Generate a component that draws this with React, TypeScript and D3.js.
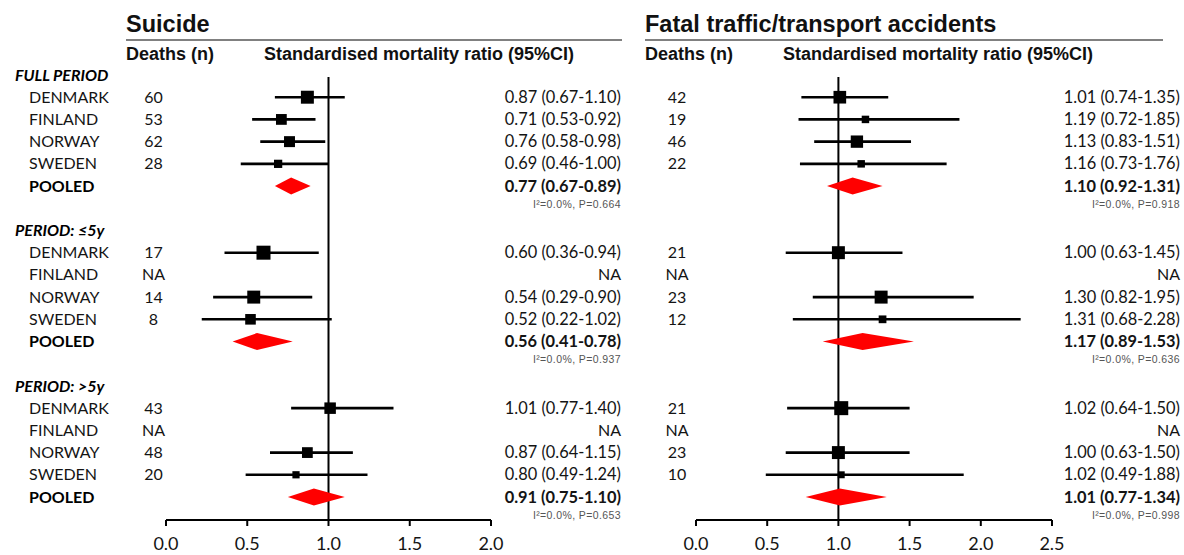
import React from 'react';
import * as d3 from 'd3';

// row labels
const countries = ['DENMARK', 'FINLAND', 'NORWAY', 'SWEDEN'];
const periods = ['FULL PERIOD', 'PERIOD: ≤5y', 'PERIOD: >5y'];

// Suicide
const suicideDeaths = [[60, 53, 62, 28], [17, null, 14, 8], [43, null, 48, 20]];
const suicideSmr = [[0.87, 0.71, 0.76, 0.69], [0.60, null, 0.54, 0.52], [1.01, null, 0.87, 0.80]];
const suicideLo = [[0.67, 0.53, 0.58, 0.46], [0.36, null, 0.29, 0.22], [0.77, null, 0.64, 0.49]];
const suicideHi = [[1.10, 0.92, 0.98, 1.00], [0.94, null, 0.90, 1.02], [1.40, null, 1.15, 1.24]];
const suicideBox = [[42, 29, 30, 17], [49, null, 42, 28], [33, null, 29, 13]];
const suicidePooled = [0.77, 0.56, 0.91];
const suicidePooledLo = [0.67, 0.41, 0.75];
const suicidePooledHi = [0.89, 0.78, 1.10];
const suicideI2 = [0.0, 0.0, 0.0];
const suicideP = [0.664, 0.937, 0.653];
const suicideTicks = [0, 0.5, 1, 1.5, 2];

// Fatal traffic/transport accidents
const trafficDeaths = [[42, 19, 46, 22], [21, null, 23, 12], [21, null, 23, 10]];
const trafficSmr = [[1.01, 1.19, 1.13, 1.16], [1.00, null, 1.30, 1.31], [1.02, null, 1.00, 1.02]];
const trafficLo = [[0.74, 0.72, 0.83, 0.73], [0.63, null, 0.82, 0.68], [0.64, null, 0.63, 0.49]];
const trafficHi = [[1.35, 1.85, 1.51, 1.76], [1.45, null, 1.95, 2.28], [1.50, null, 1.50, 1.88]];
const trafficBox = [[40, 14, 38, 14], [42, null, 42, 15], [49, null, 42, 12]];
const trafficPooled = [1.10, 1.17, 1.01];
const trafficPooledLo = [0.92, 0.89, 0.77];
const trafficPooledHi = [1.31, 1.53, 1.34];
const trafficI2 = [0.0, 0.0, 0.0];
const trafficP = [0.918, 0.636, 0.998];
const trafficTicks = [0, 0.5, 1, 1.5, 2, 2.5];

const ARIAL = '"Liberation Sans", Arial, sans-serif';
const CAL = 'Lato, "Noto Sans", sans-serif';
const TXT = '#141414';

// row index -> y (section headers at 0, 7, 14)
const rowY = d3.scaleLinear().domain([0, 19]).range([75, 497]);
const sectionStart = [0, 7, 14];
const AXIS_Y = 520;

const boxSize = d3.scaleSqrt().domain([0, 100]).range([0, 20]);
const fmt = (v: number) => v.toFixed(2);

type PanelProps = {
  title: string;
  left: number;
  lineEnd: number;
  smrHeaderX: number;
  deathsX: number;
  range: [number, number];
  ticks: number[];
  textRight: number;
  deaths: (number | null)[][];
  smr: (number | null)[][];
  lo: (number | null)[][];
  hi: (number | null)[][];
  box: (number | null)[][];
  pooled: number[];
  pooledLo: number[];
  pooledHi: number[];
  i2: number[];
  p: number[];
};

const Panel = (props: PanelProps) => {
  const { title, left, lineEnd, smrHeaderX, deathsX, range, ticks, textRight } = props;
  const x = d3.scaleLinear().domain([ticks[0], ticks[ticks.length - 1]]).range(range);

  return (
    <g>
      <text x={left} y={32} fontFamily={ARIAL} fontWeight="bold" fontSize={23.5} fill="#111">{title}</text>
      <line x1={left} x2={lineEnd} y1={40} y2={40} stroke="#808080" strokeWidth={2} />
      <text x={left} y={60} fontFamily={ARIAL} fontWeight="bold" fontSize={18} fill="#111">Deaths (n)</text>
      <text x={smrHeaderX} y={60} fontFamily={ARIAL} fontWeight="bold" fontSize={18} fill="#111">
        Standardised mortality ratio (95%CI)
      </text>

      {/* reference line at 1 */}
      <line x1={x(1)} x2={x(1)} y1={77} y2={AXIS_Y} stroke="#000" strokeWidth={2} />

      {sectionStart.map((s, si) => (
        <g key={si}>
          {countries.map((c, ci) => {
            const y = rowY(s + 1 + ci);
            const d = props.deaths[si][ci];
            const m = props.smr[si][ci];
            const l = props.lo[si][ci];
            const h = props.hi[si][ci];
            const b = props.box[si][ci];
            return (
              <g key={c}>
                <text x={deathsX} y={y + 5.5} textAnchor="middle" fontFamily={CAL} fontSize={16} fill={TXT}>
                  {d == null ? 'NA' : d}
                </text>
                {m != null && l != null && h != null && b != null ? (
                  <>
                    <line x1={x(l)} x2={x(h)} y1={y} y2={y} stroke="#000" strokeWidth={2.6} />
                    <rect x={x(m) - boxSize(b) / 2} y={y - boxSize(b) / 2} width={boxSize(b)} height={boxSize(b)} fill="#000" />
                    <text x={textRight} y={y + 5.5} textAnchor="end" fontFamily={CAL} fontSize={16.4} fill={TXT}>
                      {`${fmt(m)} (${fmt(l)}-${fmt(h)})`}
                    </text>
                  </>
                ) : (
                  <text x={textRight} y={y + 5.5} textAnchor="end" fontFamily={CAL} fontSize={16} fill={TXT}>NA</text>
                )}
              </g>
            );
          })}
          {(() => {
            const y = rowY(s + 5);
            const lo = props.pooledLo[si];
            const hi = props.pooledHi[si];
            const pt = props.pooled[si];
            const path = d3.path();
            path.moveTo(x(lo), y);
            path.lineTo(x(pt), y - 8.5);
            path.lineTo(x(hi), y);
            path.lineTo(x(pt), y + 8.5);
            path.closePath();
            return (
              <>
                <path d={path.toString()} fill="#ff0000" />
                <text x={textRight} y={y + 5.5} textAnchor="end" fontFamily={CAL} fontWeight="bold" fontSize={16.4} fill={TXT}>
                  {`${fmt(pt)} (${fmt(lo)}-${fmt(hi)})`}
                </text>
                <text x={textRight} y={y + 21.5} textAnchor="end" fontFamily={ARIAL} fontSize={10.5} letterSpacing={0.4} fill="#555">
                  {`I²=${props.i2[si].toFixed(1)}%, P=${props.p[si].toFixed(3)}`}
                </text>
              </>
            );
          })()}
        </g>
      ))}

      {/* x axis */}
      <line x1={range[0]} x2={range[1]} y1={AXIS_Y} y2={AXIS_Y} stroke="#000" strokeWidth={2} />
      {ticks.map((t) => (
        <g key={t}>
          <line x1={x(t)} x2={x(t)} y1={AXIS_Y} y2={AXIS_Y + 6} stroke="#000" strokeWidth={2} />
          <text x={x(t)} y={550} textAnchor="middle" fontFamily={CAL} fontSize={18} fill={TXT}>{t.toFixed(1)}</text>
        </g>
      ))}
    </g>
  );
};

export default function App() {
  return (
    <div style={{ position: 'absolute', left: 0, top: 0 }}>
      <svg width={1184} height={555} style={{ display: 'block', background: '#fff' }}>
        {/* left label column */}
        {sectionStart.map((s, si) => (
          <g key={si}>
            <text x={15} y={rowY(s) + 6} fontFamily={CAL} fontWeight="bold" fontStyle="italic" fontSize={16} fill="#000">
              {periods[si]}
            </text>
            {countries.map((c, ci) => (
              <text key={c} x={29} y={rowY(s + 1 + ci) + 5.5} fontFamily={CAL} fontSize={16} fill={TXT}>{c}</text>
            ))}
            <text x={29} y={rowY(s + 5) + 5.5} fontFamily={CAL} fontWeight="bold" fontSize={16} fill="#000">POOLED</text>
          </g>
        ))}

        <Panel
          title="Suicide"
          left={126}
          lineEnd={622}
          smrHeaderX={264}
          deathsX={153.5}
          range={[166, 491]}
          ticks={suicideTicks}
          textRight={621}
          deaths={suicideDeaths}
          smr={suicideSmr}
          lo={suicideLo}
          hi={suicideHi}
          box={suicideBox}
          pooled={suicidePooled}
          pooledLo={suicidePooledLo}
          pooledHi={suicidePooledHi}
          i2={suicideI2}
          p={suicideP}
        />
        <Panel
          title="Fatal traffic/transport accidents"
          left={645}
          lineEnd={1163}
          smrHeaderX={783}
          deathsX={677}
          range={[696, 1052]}
          ticks={trafficTicks}
          textRight={1180}
          deaths={trafficDeaths}
          smr={trafficSmr}
          lo={trafficLo}
          hi={trafficHi}
          box={trafficBox}
          pooled={trafficPooled}
          pooledLo={trafficPooledLo}
          pooledHi={trafficPooledHi}
          i2={trafficI2}
          p={trafficP}
        />
      </svg>
    </div>
  );
}
